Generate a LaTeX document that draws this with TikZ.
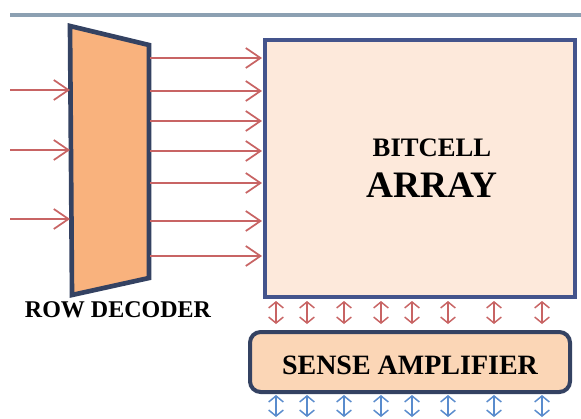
\documentclass[tikz,border=0pt]{standalone}
\usepackage{fontspec}
\setmainfont{Liberation Serif}
\usetikzlibrary{arrows.meta}
\definecolor{wire}{RGB}{200,100,100}
\definecolor{decfill}{RGB}{249,178,125}
\definecolor{decline}{RGB}{52,66,98}
\definecolor{arrfill}{RGB}{253,233,219}
\definecolor{arrline}{RGB}{68,84,140}
\definecolor{safill}{RGB}{251,214,182}
\definecolor{bluew}{RGB}{90,140,205}
\definecolor{topline}{RGB}{140,160,178}
\tikzset{
  wirearrow/.style={draw=wire, line width=1.5pt, -{Straight Barb[length=11pt,width=15pt,line width=1.3pt]}},
  redbi/.style={draw=wire, line width=1.1pt, {Straight Barb[length=4.5pt,width=11pt]}-{Straight Barb[length=4.5pt,width=11pt]}},
  bluebi/.style={draw=bluew, line width=1.1pt, {Straight Barb[length=4.5pt,width=11pt]}-{Straight Barb[length=4.5pt,width=11pt]}},
  lbl/.style={font=\bfseries, text=black, inner sep=0pt}
}
\begin{document}
\begin{tikzpicture}[x=0.75pt,y=-0.75pt]
\useasboundingbox (0,0) rectangle (581,418);
\fill[white] (0,0) rectangle (581,418);
% top rule
\coordinate (tl) at (10,15);
\coordinate (tr) at (581,15);
\draw[topline, line width=3pt] (tl) -- (tr);
% decoder
\draw[fill=decfill, draw=decline, line width=3.5pt, line join=miter]
  (70,26) coordinate (d1) -- (149,45) coordinate (d2) -- (149,278) coordinate (d3) -- (72,295) coordinate (d4) -- cycle;
% bitcell array
\node[draw=arrline, fill=arrfill, line width=3pt, minimum width=310*0.75pt, minimum height=257*0.75pt, anchor=north west, inner sep=0pt] (arr) at (263,38) {};
\node[lbl, font=\bfseries\fontsize{20}{24}\selectfont] (bit) at (432,148) {BITCELL};
\node[lbl, font=\bfseries\fontsize{28}{32}\selectfont] (ary) at (432,185) {ARRAY};
% decoder label
\node[lbl, font=\bfseries\fontsize{18}{22}\selectfont] (rd) at (118,310) {ROW DECODER};
% sense amplifier
\node[draw=decline, fill=safill, line width=3pt, rounded corners=8pt, minimum width=320*0.75pt, minimum height=60*0.75pt, anchor=north west, inner sep=0pt] (sa) at (248,330) {};
\node[lbl, font=\bfseries\fontsize{21}{25}\selectfont] (satext) at (410,365) {SENSE AMPLIFIER};
% input arrows
\foreach \y/\n in {90/a,150/b,219/c}{
  \coordinate (in\n) at (10,\y);
  \coordinate (ie\n) at (70,\y);
  \draw[wirearrow] (in\n) -- (ie\n);
}
% output arrows
\foreach \y/\n in {58/a,91/b,121/c,151/d,183/e,221/f,256/g}{
  \coordinate (os\n) at (150,\y);
  \coordinate (oe\n) at (262,\y);
  \draw[wirearrow] (os\n) -- (oe\n);
}
% bit line connectors
\foreach \x/\n in {276/a,307/b,344/c,381/d,412/e,448/f,494/g,542/h}{
  \coordinate (rt\n) at (\x,301);
  \coordinate (rb\n) at (\x,324);
  \draw[redbi] (rt\n) -- (rb\n);
  \coordinate (bt\n) at (\x,395);
  \coordinate (bb\n) at (\x,417);
  \draw[bluebi] (bt\n) -- (bb\n);
}
\end{tikzpicture}
\end{document}
